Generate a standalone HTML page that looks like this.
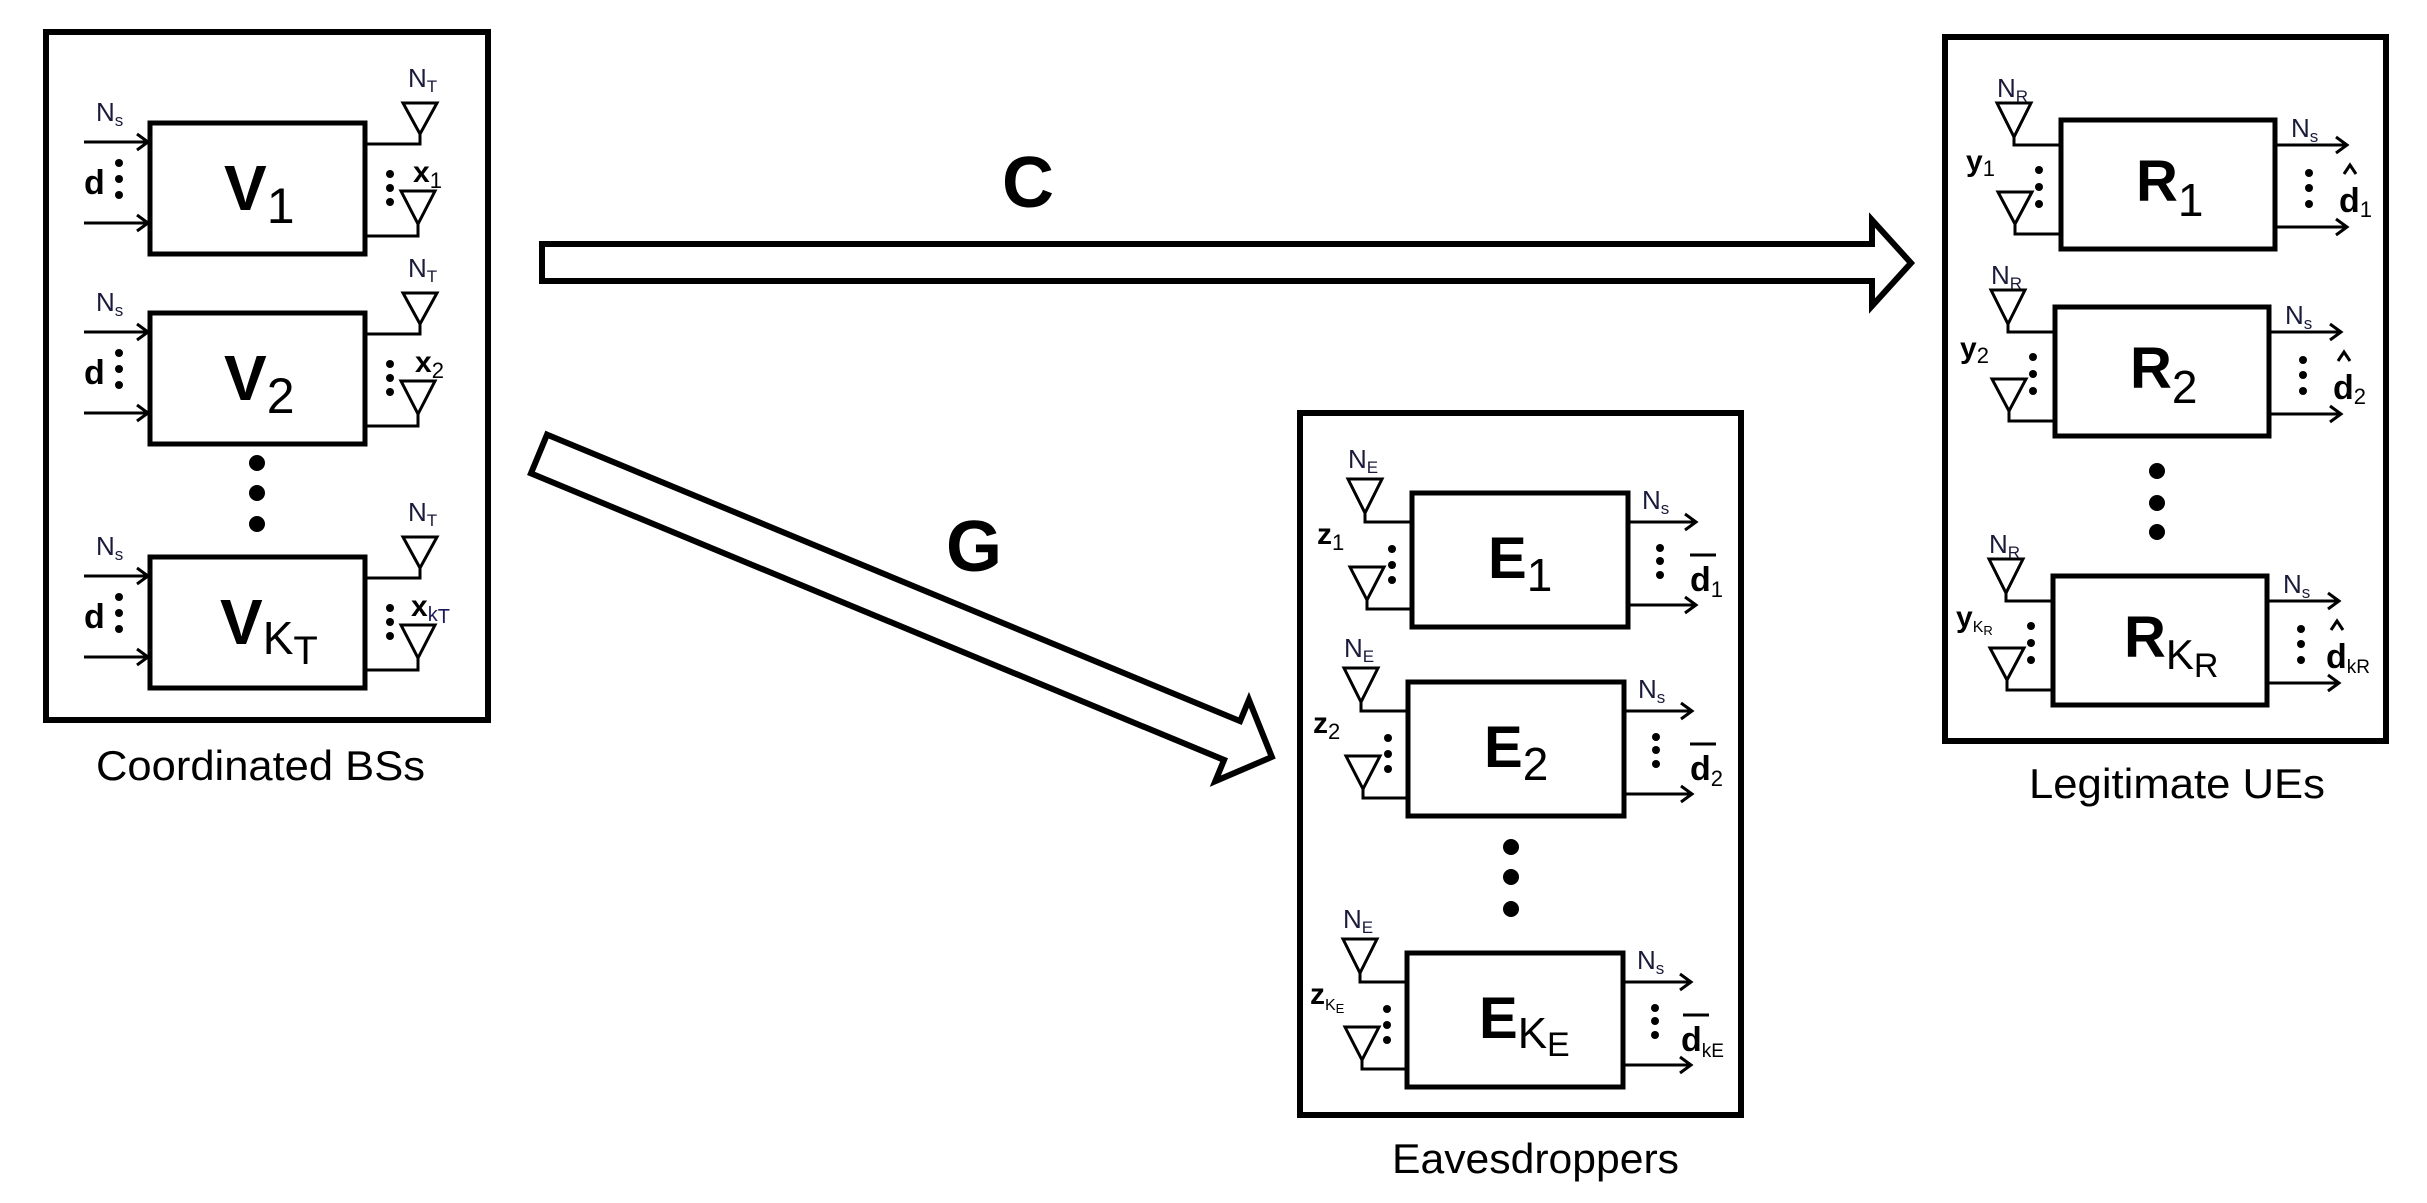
<!DOCTYPE html>
<html><head><meta charset="utf-8"><style>
html,body{margin:0;padding:0;background:#fff;}
svg{display:block;}
text{font-family:"Liberation Sans",sans-serif;fill:#000;}
.n{font-size:26px;fill:#1a1a3a;}
.s{font-size:17px;}
.b{font-weight:bold;}
.ln{stroke:#000;stroke-width:3;fill:none;}
.bx{stroke:#000;stroke-width:5;fill:none;}
</style></head><body>
<svg width="2427" height="1203" viewBox="0 0 2427 1203" xmlns="http://www.w3.org/2000/svg">
<rect width="2427" height="1203" fill="#fff"/>

<!-- ===== Coordinated BSs ===== -->
<rect x="46" y="32" width="442" height="688" fill="none" stroke="#000" stroke-width="6"/>

<g transform="translate(0,123)">
<rect class="bx" x="150" y="0" width="215" height="131"/>
<path class="ln" d="M84 19H148M137 11L148 19L137 27M84 100H148M137 92L148 100L137 108"/>
<text class="n" x="96" y="-2">N<tspan class="s" dy="5">s</tspan></text>
<text class="b" x="84" y="71" font-size="34">d</text>
<circle cx="119" cy="40" r="4"/><circle cx="119" cy="56" r="4"/><circle cx="119" cy="72" r="4"/>
<path class="ln" d="M365 21H420V11M403 -20H437L420 11ZM365 113H418V101M401 68H435L418 101Z"/>
<text class="n" x="408" y="-36">N<tspan class="s" dy="5">T</tspan></text>
<text class="b" x="413" y="59" font-size="30">x<tspan font-size="22" font-weight="normal" dy="6">1</tspan></text>
<circle cx="390" cy="51" r="4"/><circle cx="390" cy="65" r="4"/><circle cx="390" cy="79" r="4"/>
<text class="b" x="224" y="87" font-size="64">V<tspan font-size="50" font-weight="normal" dy="13">1</tspan></text>
</g>

<g transform="translate(0,313)">
<rect class="bx" x="150" y="0" width="215" height="131"/>
<path class="ln" d="M84 19H148M137 11L148 19L137 27M84 100H148M137 92L148 100L137 108"/>
<text class="n" x="96" y="-2">N<tspan class="s" dy="5">s</tspan></text>
<text class="b" x="84" y="71" font-size="34">d</text>
<circle cx="119" cy="40" r="4"/><circle cx="119" cy="56" r="4"/><circle cx="119" cy="72" r="4"/>
<path class="ln" d="M365 21H420V11M403 -20H437L420 11ZM365 113H418V101M401 68H435L418 101Z"/>
<text class="n" x="408" y="-36">N<tspan class="s" dy="5">T</tspan></text>
<text class="b" x="415" y="59" font-size="30">x<tspan font-size="22" font-weight="normal" dy="6">2</tspan></text>
<circle cx="390" cy="51" r="4"/><circle cx="390" cy="65" r="4"/><circle cx="390" cy="79" r="4"/>
<text class="b" x="224" y="87" font-size="64">V<tspan font-size="50" font-weight="normal" dy="13">2</tspan></text>
</g>

<circle cx="257" cy="463" r="8"/><circle cx="257" cy="493" r="8"/><circle cx="257" cy="524" r="8"/>

<g transform="translate(0,557)">
<rect class="bx" x="150" y="0" width="215" height="131"/>
<path class="ln" d="M84 19H148M137 11L148 19L137 27M84 100H148M137 92L148 100L137 108"/>
<text class="n" x="96" y="-2">N<tspan class="s" dy="5">s</tspan></text>
<text class="b" x="84" y="71" font-size="34">d</text>
<circle cx="119" cy="40" r="4"/><circle cx="119" cy="56" r="4"/><circle cx="119" cy="72" r="4"/>
<path class="ln" d="M365 21H420V11M403 -20H437L420 11ZM365 113H418V101M401 68H435L418 101Z"/>
<text class="n" x="408" y="-36">N<tspan class="s" dy="5">T</tspan></text>
<text class="b" x="411" y="59" font-size="30">x<tspan font-size="20" font-weight="normal" fill="#1a1a5a" dy="5">k</tspan><tspan font-size="20" font-weight="normal" fill="#1a1a5a" dy="2">T</tspan></text>
<circle cx="390" cy="51" r="4"/><circle cx="390" cy="65" r="4"/><circle cx="390" cy="79" r="4"/>
<text class="b" x="220" y="87" font-size="64">V<tspan font-size="46" font-weight="normal" dy="10">K</tspan><tspan font-size="40" font-weight="normal" dy="10">T</tspan></text>
</g>

<text x="96" y="780" font-size="42" textLength="329" lengthAdjust="spacingAndGlyphs">Coordinated BSs</text>

<!-- ===== Big arrows ===== -->
<polygon points="542,244 1872,244 1872,220 1911,263 1872,306 1872,281 542,281" fill="#fff" stroke="#000" stroke-width="6" stroke-linejoin="miter"/>
<text class="b" x="1002" y="207" font-size="72">C</text>

<g transform="translate(539,454) rotate(22.46)">
<polygon points="0,-21 750,-21 750,-44 793,0 750,44 750,21 0,21" fill="#fff" stroke="#000" stroke-width="6"/>
</g>
<text class="b" x="946" y="571" font-size="72">G</text>

<!-- ===== Eavesdroppers ===== -->
<rect x="1300" y="413" width="441" height="702" fill="none" stroke="#000" stroke-width="6"/>

<g transform="translate(0,493)">
<rect class="bx" x="1412" y="0" width="216" height="134"/>
<path class="ln" d="M1348 -14H1382L1365 20ZM1365 20V29H1412M1350 74H1384L1367 107ZM1367 107V116H1412"/>
<text class="n" x="1348" y="-25">N<tspan class="s" dy="5">E</tspan></text>
<text class="b" x="1317" y="51" font-size="30">z<tspan font-size="22" font-weight="normal" dy="6">1</tspan></text>
<circle cx="1392" cy="56" r="4"/><circle cx="1392" cy="72" r="4"/><circle cx="1392" cy="87" r="4"/>
<path class="ln" d="M1628 29H1696M1685 21L1696 29L1685 37M1628 112H1696M1685 104L1696 112L1685 120"/>
<text class="n" x="1642" y="16">N<tspan class="s" dy="5">s</tspan></text>
<circle cx="1660" cy="55" r="4"/><circle cx="1660" cy="68" r="4"/><circle cx="1660" cy="82" r="4"/>
<text class="b" x="1690" y="98" font-size="34">d<tspan font-size="22" font-weight="normal" dy="6">1</tspan></text>
<path class="ln" d="M1690 62H1716"/>
<text class="b" x="1488" y="85" font-size="58">E<tspan font-size="46" font-weight="normal" dy="13">1</tspan></text>
</g>

<g transform="translate(-4,682)">
<rect class="bx" x="1412" y="0" width="216" height="134"/>
<path class="ln" d="M1348 -14H1382L1365 20ZM1365 20V29H1412M1350 74H1384L1367 107ZM1367 107V116H1412"/>
<text class="n" x="1348" y="-25">N<tspan class="s" dy="5">E</tspan></text>
<text class="b" x="1317" y="51" font-size="30">z<tspan font-size="22" font-weight="normal" dy="6">2</tspan></text>
<circle cx="1392" cy="56" r="4"/><circle cx="1392" cy="72" r="4"/><circle cx="1392" cy="87" r="4"/>
<path class="ln" d="M1628 29H1696M1685 21L1696 29L1685 37M1628 112H1696M1685 104L1696 112L1685 120"/>
<text class="n" x="1642" y="16">N<tspan class="s" dy="5">s</tspan></text>
<circle cx="1660" cy="55" r="4"/><circle cx="1660" cy="68" r="4"/><circle cx="1660" cy="82" r="4"/>
<text class="b" x="1694" y="98" font-size="34">d<tspan font-size="22" font-weight="normal" dy="6">2</tspan></text>
<path class="ln" d="M1694 62H1720"/>
<text class="b" x="1488" y="85" font-size="58">E<tspan font-size="46" font-weight="normal" dy="13">2</tspan></text>
</g>

<circle cx="1511" cy="847" r="8"/><circle cx="1511" cy="877" r="8"/><circle cx="1511" cy="909" r="8"/>

<g transform="translate(-5,953)">
<rect class="bx" x="1412" y="0" width="216" height="134"/>
<path class="ln" d="M1348 -14H1382L1365 20ZM1365 20V29H1412M1350 74H1384L1367 107ZM1367 107V116H1412"/>
<text class="n" x="1348" y="-25">N<tspan class="s" dy="5">E</tspan></text>
<text class="b" x="1315" y="51" font-size="30">z<tspan font-size="16" font-weight="normal" dy="6">K</tspan><tspan font-size="13" font-weight="normal" dy="3">E</tspan></text>
<circle cx="1392" cy="56" r="4"/><circle cx="1392" cy="72" r="4"/><circle cx="1392" cy="87" r="4"/>
<path class="ln" d="M1628 29H1696M1685 21L1696 29L1685 37M1628 112H1696M1685 104L1696 112L1685 120"/>
<text class="n" x="1642" y="16">N<tspan class="s" dy="5">s</tspan></text>
<circle cx="1660" cy="55" r="4"/><circle cx="1660" cy="68" r="4"/><circle cx="1660" cy="82" r="4"/>
<text class="b" x="1686" y="98" font-size="34">d<tspan font-size="19" font-weight="normal" dy="6">kE</tspan></text>
<path class="ln" d="M1688 62H1714"/>
<text class="b" x="1484" y="85" font-size="58">E<tspan font-size="44" font-weight="normal" dy="10">K</tspan><tspan font-size="34" font-weight="normal" dy="8">E</tspan></text>
</g>

<text x="1392" y="1173" font-size="42" textLength="287" lengthAdjust="spacingAndGlyphs">Eavesdroppers</text>

<!-- ===== Legitimate UEs ===== -->
<rect x="1945" y="37" width="441" height="704" fill="none" stroke="#000" stroke-width="6"/>

<g transform="translate(3,120)">
<rect class="bx" x="2058" y="0" width="214" height="129"/>
<path class="ln" d="M1994 -17H2028L2011 17ZM2011 17V25H2058M1995 72H2029L2012 104ZM2012 104V114H2058"/>
<text class="n" x="1994" y="-23">N<tspan class="s" dy="5">R</tspan></text>
<text class="b" x="1963" y="51" font-size="30">y<tspan font-size="22" font-weight="normal" dy="5">1</tspan></text>
<circle cx="2036" cy="50" r="4"/><circle cx="2036" cy="67" r="4"/><circle cx="2036" cy="84" r="4"/>
<path class="ln" d="M2272 25H2344M2333 17L2344 25L2333 33M2272 107H2344M2333 99L2344 107L2333 115"/>
<text class="n" x="2288" y="17">N<tspan class="s" dy="5">s</tspan></text>
<circle cx="2306" cy="53" r="4"/><circle cx="2306" cy="68" r="4"/><circle cx="2306" cy="84" r="4"/>
<text class="b" x="2336" y="92" font-size="34">d<tspan font-size="22" font-weight="normal" dy="5">1</tspan></text>
<path class="ln" d="M2341 54L2347 45L2353 54"/>
<text class="b" x="2133" y="81" font-size="58">R<tspan font-size="46" font-weight="normal" dy="15">1</tspan></text>
</g>

<g transform="translate(-3,307)">
<rect class="bx" x="2058" y="0" width="214" height="129"/>
<path class="ln" d="M1994 -17H2028L2011 17ZM2011 17V25H2058M1995 72H2029L2012 104ZM2012 104V114H2058"/>
<text class="n" x="1994" y="-23">N<tspan class="s" dy="5">R</tspan></text>
<text class="b" x="1963" y="51" font-size="30">y<tspan font-size="22" font-weight="normal" dy="5">2</tspan></text>
<circle cx="2036" cy="50" r="4"/><circle cx="2036" cy="67" r="4"/><circle cx="2036" cy="84" r="4"/>
<path class="ln" d="M2272 25H2344M2333 17L2344 25L2333 33M2272 107H2344M2333 99L2344 107L2333 115"/>
<text class="n" x="2288" y="17">N<tspan class="s" dy="5">s</tspan></text>
<circle cx="2306" cy="53" r="4"/><circle cx="2306" cy="68" r="4"/><circle cx="2306" cy="84" r="4"/>
<text class="b" x="2336" y="92" font-size="34">d<tspan font-size="22" font-weight="normal" dy="5">2</tspan></text>
<path class="ln" d="M2341 54L2347 45L2353 54"/>
<text class="b" x="2133" y="81" font-size="58">R<tspan font-size="46" font-weight="normal" dy="15">2</tspan></text>
</g>

<circle cx="2157" cy="471" r="8"/><circle cx="2157" cy="503" r="8"/><circle cx="2157" cy="532" r="8"/>

<g transform="translate(-5,576)">
<rect class="bx" x="2058" y="0" width="214" height="129"/>
<path class="ln" d="M1994 -17H2028L2011 17ZM2011 17V25H2058M1995 72H2029L2012 104ZM2012 104V114H2058"/>
<text class="n" x="1994" y="-23">N<tspan class="s" dy="5">R</tspan></text>
<text class="b" x="1961" y="51" font-size="30">y<tspan font-size="16" font-weight="normal" dy="5">K</tspan><tspan font-size="13" font-weight="normal" dy="3">R</tspan></text>
<circle cx="2036" cy="50" r="4"/><circle cx="2036" cy="67" r="4"/><circle cx="2036" cy="84" r="4"/>
<path class="ln" d="M2272 25H2344M2333 17L2344 25L2333 33M2272 107H2344M2333 99L2344 107L2333 115"/>
<text class="n" x="2288" y="17">N<tspan class="s" dy="5">s</tspan></text>
<circle cx="2306" cy="53" r="4"/><circle cx="2306" cy="68" r="4"/><circle cx="2306" cy="84" r="4"/>
<text class="b" x="2331" y="92" font-size="34">d<tspan font-size="19" font-weight="normal" dy="5">kR</tspan></text>
<path class="ln" d="M2336 54L2342 45L2348 54"/>
<text class="b" x="2129" y="81" font-size="58">R<tspan font-size="42" font-weight="normal" dy="12">K</tspan><tspan font-size="34" font-weight="normal" dy="8">R</tspan></text>
</g>

<text x="2029" y="798" font-size="42" textLength="296" lengthAdjust="spacingAndGlyphs">Legitimate UEs</text>
</svg>
</body></html>
